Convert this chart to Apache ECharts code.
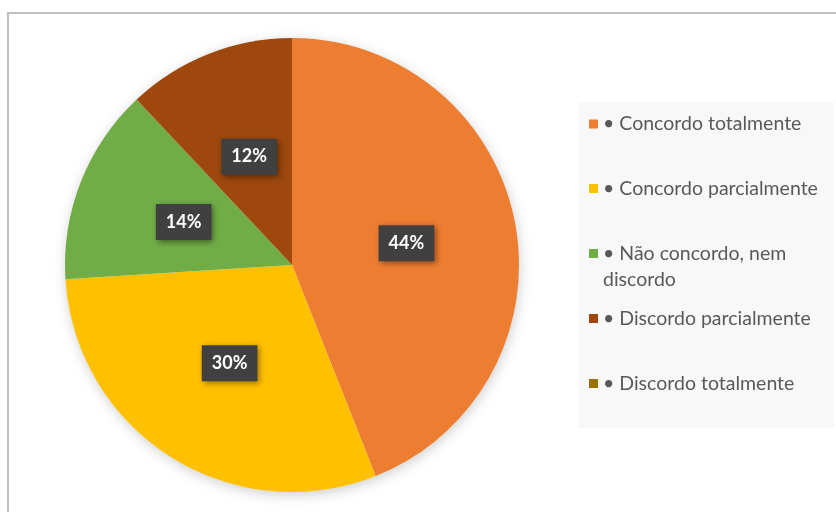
<!DOCTYPE html>
<html>
<head>
<meta charset="utf-8">
<script src="https://cdn.jsdelivr.net/npm/echarts@6/dist/echarts.min.js"></script>
<style>
  html, body { margin: 0; padding: 0; background: #ffffff; }
  #chart { width: 836px; height: 512px; }
</style>
</head>
<body>
<div id="chart"></div>
<script>
// Survey answers and their share of respondents (%)
const categories = [
  'Concordo totalmente',
  'Concordo parcialmente',
  'Não concordo, nem discordo',
  'Discordo parcialmente',
  'Discordo totalmente'
];
const shares = [44, 30, 14, 12, 0];
const palette = ['#ED7D31', '#FFC000', '#70AD47', '#9E480E', '#997300'];

// Layout
const FONT = 'Lato, "Open Sans", sans-serif';
const PIE_CENTER = [292, 265];
const PIE_RADIUS = 227;
const LEGEND_X = 589;
const LEGEND_ROWS = [124.5, 189, 254, 319, 384];
const LEGEND_LINE = 26;
const LEGEND_WRAP = 24;

// Break a legend entry into lines no longer than maxChars
function wrapLabel(text, maxChars) {
  const words = text.split(' ');
  const lines = [];
  let cur = '';
  words.forEach(w => {
    const next = cur ? cur + ' ' + w : w;
    if (next.length > maxChars && cur) { lines.push(cur); cur = w; }
    else cur = next;
  });
  if (cur) lines.push(cur);
  return lines;
}

const legends = categories.map((name, i) => {
  const lines = wrapLabel('• ' + name, LEGEND_WRAP);
  return {
    orient: 'vertical',
    left: LEGEND_X,
    top: LEGEND_ROWS[i] - 10.5,
    padding: 0,
    icon: 'rect',
    itemWidth: 9,
    itemHeight: 9,
    selectedMode: false,
    data: [name],
    formatter: () => lines.map(l => '{t|' + l + '}').join('\n'),
    textStyle: {
      padding: [(lines.length - 1) * LEGEND_LINE, 0, 0, 0],
      rich: {
        t: { fontFamily: FONT, fontSize: 19.5, color: '#595959', lineHeight: LEGEND_LINE }
      }
    }
  };
});

const chart = echarts.init(document.getElementById('chart'), null, { renderer: 'canvas' });

chart.setOption({
  backgroundColor: '#ffffff',
  animation: false,
  color: palette,
  graphic: [
    {
      type: 'rect',
      z: -10,
      shape: { x: 8, y: 13, width: 900, height: 600 },
      style: { fill: '#ffffff', stroke: '#bfbfbf', lineWidth: 2 }
    },
    {
      type: 'rect',
      z: -9,
      shape: { x: 578, y: 102, width: 256, height: 326 },
      style: { fill: '#f8f8f8' }
    }
  ],
  legend: legends,
  series: [
    {
      // soft drop shadow under the whole disc
      type: 'pie',
      silent: true,
      center: PIE_CENTER,
      radius: PIE_RADIUS - 1,
      label: { show: false },
      labelLine: { show: false },
      itemStyle: {
        color: '#ffffff',
        shadowBlur: 14,
        shadowColor: 'rgba(0,0,0,0.22)',
        shadowOffsetX: 1,
        shadowOffsetY: 3
      },
      data: [{ name: '', value: 1 }],
      z: 1
    },
    {
      type: 'pie',
      center: PIE_CENTER,
      radius: PIE_RADIUS,
      startAngle: 90,
      clockwise: true,
      z: 2,
      itemStyle: { borderWidth: 0 },
      labelLine: { show: false },
      label: {
        show: true,
        position: 'inside',
        formatter: p => Math.round(p.percent) + '%',
        fontFamily: FONT,
        fontSize: 18,
        fontWeight: 'bold',
        color: '#ffffff',
        backgroundColor: '#404040',
        padding: [9, 10, 9, 10],
        shadowBlur: 6,
        shadowColor: 'rgba(0,0,0,0.45)',
        shadowOffsetX: 2,
        shadowOffsetY: 2
      },
      data: categories.map((name, i) => ({
        name: name,
        value: shares[i],
        label: { show: shares[i] > 0 }
      }))
    }
  ]
});
</script>
</body>
</html>
